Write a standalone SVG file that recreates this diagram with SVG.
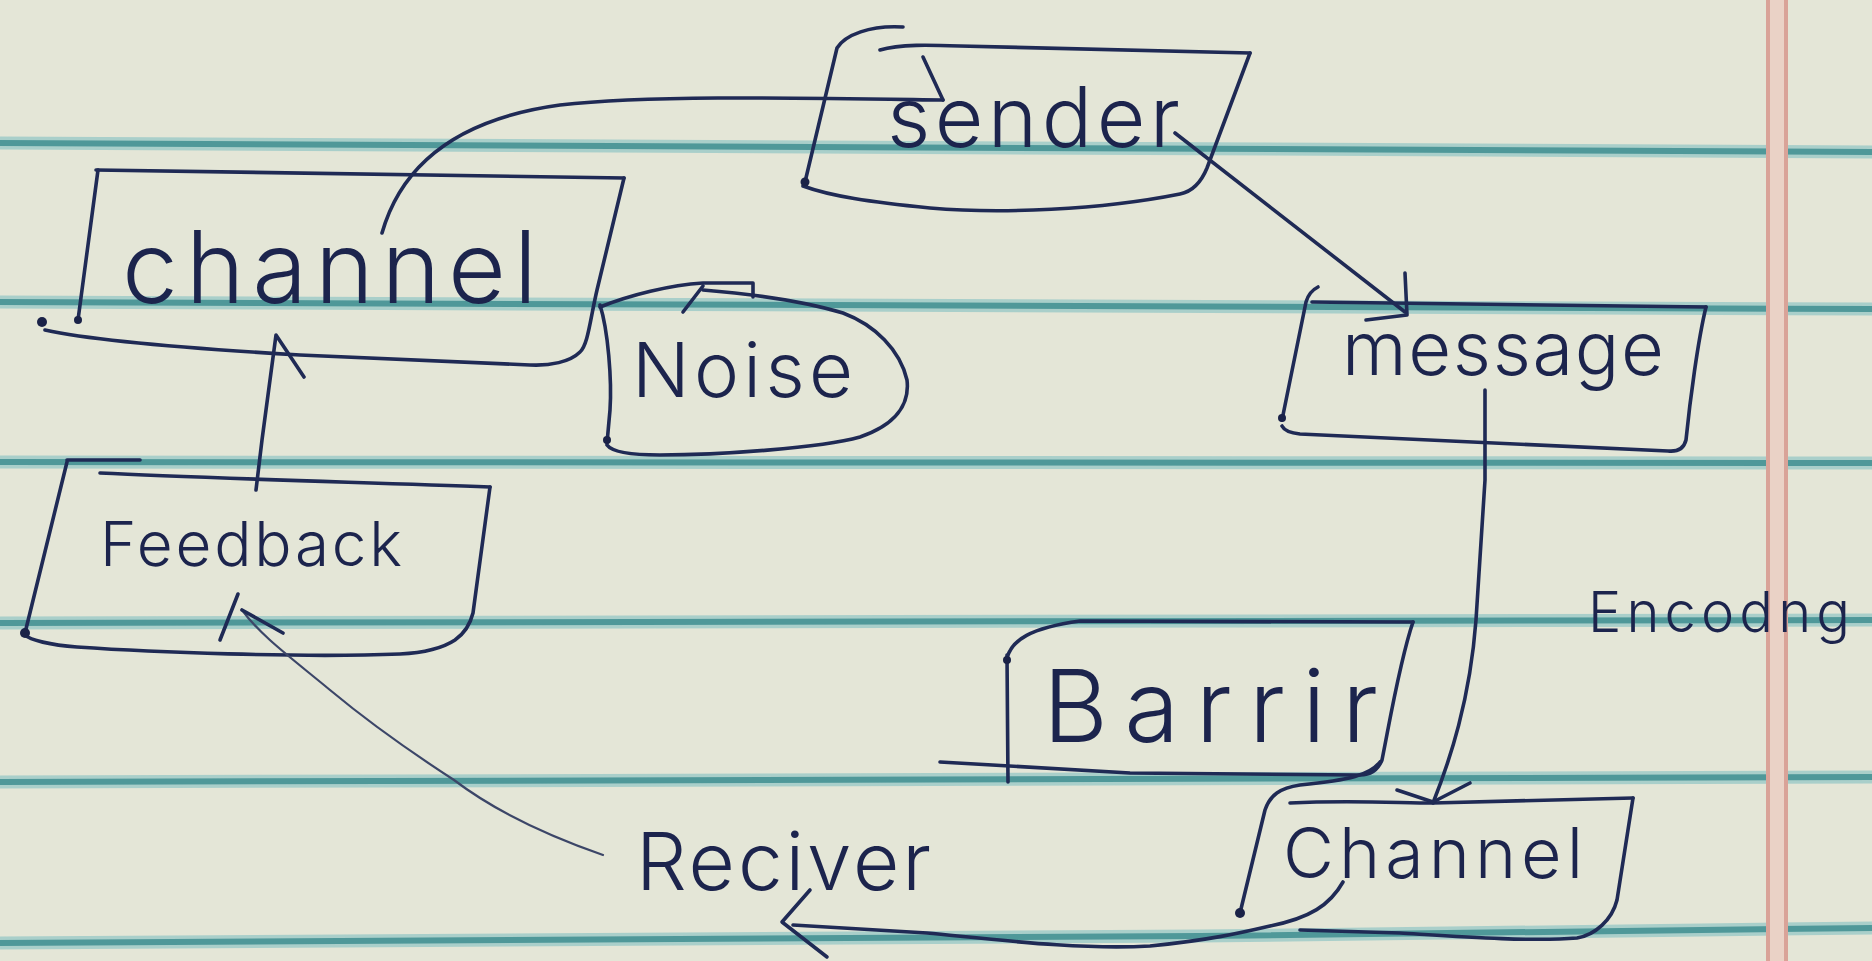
<svg xmlns="http://www.w3.org/2000/svg" width="1872" height="961" viewBox="0 0 1872 961">
  <style>
    .ink { fill: none; stroke: #1f2a55; stroke-width: 3.6; stroke-linecap: round; stroke-linejoin: round; }
    .thin { fill: none; stroke: #3c4668; stroke-width: 2.2; stroke-linecap: round; stroke-linejoin: round; }
    .dot { fill: #1a2248; }
    .rule-halo { fill: none; stroke: #a9cfca; stroke-width: 13; }
    .rule { fill: none; stroke: #4f9899; stroke-width: 6; }
    .margin { fill: none; stroke: #d9a398; stroke-width: 4; }
    .hand { font-family: Inter, "DejaVu Sans", "Liberation Sans", sans-serif; font-weight: 300; fill: #1c244d; }
  </style>

  <!-- paper -->
  <rect x="0" y="0" width="1872" height="961" fill="#e4e6d7"/>
  <g id="paper-rules">
    <path class="rule-halo" d="M0,143 L1872,152 M0,302 L1872,309 M0,462 L1872,463 M0,623 L1872,620 M0,782 L1872,777 M0,943 L1200,936 L1872,928"/>
    <path class="rule" d="M0,143 L1872,152 M0,302 L1872,309 M0,462 L1872,463 M0,623 L1872,620 M0,782 L1872,777 M0,943 L1200,936 L1872,928"/>
    <rect x="1768" y="0" width="18" height="961" fill="#ead2c6"/>
    <path class="margin" d="M1768,0 L1768,961 M1786,0 L1786,961"/>
  </g>

  <g id="sender">
    <path class="ink" d="M903,27 C870,25 845,35 837,48 L805,182"/>
    <path class="ink" d="M880,50 C900,44 930,45 960,46 L1250,53"/>
    <path class="ink" d="M1250,53 L1207,168 C1200,185 1190,192 1180,194 C1100,210 1000,214 930,208 C870,202 830,196 803,186"/>
    <circle class="dot" cx="805" cy="182" r="4.5"/>
    <text class="hand" x="887" y="147" font-size="84" textLength="293" lengthAdjust="spacing">sender</text>
  </g>

  <g id="channel-top">
    <path class="ink" d="M96,170 L624,178"/>
    <path class="ink" d="M624,178 L597,290 C590,320 588,345 580,352 C570,362 550,366 530,365 L300,355 C180,348 90,340 45,330"/>
    <path class="ink" d="M98,170 L78,320"/>
    <circle class="dot" cx="42" cy="322" r="5"/>
    <circle class="dot" cx="78" cy="320" r="4"/>
    <text class="hand" x="122" y="303" font-size="100" textLength="415" lengthAdjust="spacing">channel</text>
  </g>

  <g id="noise">
    <path class="ink" d="M600,307 C630,295 670,285 703,283 L753,283 L753,297"/>
    <path class="ink" d="M703,290 C740,293 800,300 843,313 C875,325 900,350 907,380 C910,405 895,425 860,437 C820,448 720,455 660,455 C630,455 612,452 607,445"/>
    <path class="ink" d="M600,305 C608,330 612,380 610,410 L607,443"/>
    <path class="ink" d="M683,312 L703,286"/>
    <circle class="dot" cx="607" cy="440" r="4"/>
    <text class="hand" x="632" y="397" font-size="76" textLength="221" lengthAdjust="spacing">Noise</text>
  </g>

  <g id="message">
    <path class="ink" d="M1318,287 C1312,290 1308,295 1306,302 L1282,420"/>
    <path class="ink" d="M1312,302 L1706,307"/>
    <path class="ink" d="M1706,307 C1698,340 1690,400 1686,440 C1684,448 1678,452 1668,451 L1300,434 C1290,433 1284,430 1282,426"/>
    <circle class="dot" cx="1282" cy="418" r="4"/>
    <text class="hand" x="1342" y="375" font-size="74" textLength="322" lengthAdjust="spacing">message</text>
  </g>

  <g id="barrir">
    <path class="ink" d="M1007,658 C1012,640 1030,628 1080,621 L1413,622"/>
    <path class="ink" d="M1007,655 L1008,782"/>
    <path class="ink" d="M1413,622 C1400,660 1390,720 1382,760 C1378,770 1370,775 1360,775 L1130,773 L940,762"/>
    <circle class="dot" cx="1007" cy="660" r="4"/>
    <text class="hand" x="1043" y="742" font-size="100" textLength="335" lengthAdjust="spacing">Barrir</text>
  </g>

  <g id="channel-bottom">
    <path class="ink" d="M1380,762 C1370,775 1350,780 1300,785 C1280,788 1270,795 1265,810 L1240,913"/>
    <path class="ink" d="M1290,803 C1350,800 1400,803 1433,803 L1633,798"/>
    <path class="ink" d="M1633,798 L1617,900 C1612,920 1595,935 1577,938 C1530,942 1450,936 1400,933 L1300,930"/>
    <circle class="dot" cx="1240" cy="913" r="5"/>
    <text class="hand" x="1283" y="878" font-size="70" textLength="300" lengthAdjust="spacing">Channel</text>
  </g>

  <g id="feedback">
    <path class="ink" d="M67,460 L140,460"/>
    <path class="ink" d="M100,473 C200,478 350,482 490,487"/>
    <path class="ink" d="M490,487 L473,613 C470,625 465,633 455,640 C440,650 420,653 400,654 C300,658 150,652 77,647 C50,645 30,640 25,635"/>
    <path class="ink" d="M67,462 L25,633"/>
    <circle class="dot" cx="25" cy="633" r="5"/>
    <text class="hand" x="100" y="566" font-size="62" textLength="302" lengthAdjust="spacing">Feedback</text>
  </g>

  <g id="receiver">
    <text class="hand" x="636" y="890" font-size="80" textLength="295" lengthAdjust="spacing">Reciver</text>
  </g>

  <g id="encoding-label">
    <text class="hand" x="1588" y="632" font-size="56" textLength="262" lengthAdjust="spacing">Encodng</text>
  </g>

  <g id="connectors">
    <!-- channel -> sender -->
    <path class="ink" d="M382,233 C400,170 450,120 560,105 C650,95 800,98 943,100"/>
    <path class="ink" d="M923,57 L943,100"/>
    <!-- sender -> message -->
    <path class="ink" d="M1175,133 L1405,312"/>
    <path class="ink" d="M1405,273 L1407,315 L1366,320"/>
    <!-- message -> channel (encoding) -->
    <path class="ink" d="M1485,390 L1485,480 L1476,620 C1470,700 1450,760 1433,803"/>
    <path class="ink" d="M1397,790 L1433,802 L1470,783"/>
    <!-- channel -> reciver -->
    <path class="ink" d="M1343,882 C1330,905 1310,918 1270,926 C1240,933 1210,940 1150,946 C1080,950 1000,940 927,933 L793,925"/>
    <path class="ink" d="M810,890 L782,922 L827,957"/>
    <!-- reciver -> feedback -->
    <path class="thin" d="M603,855 C560,840 500,815 454,780 C400,745 360,715 330,690 C290,657 260,635 242,610"/>
    <path class="ink" d="M220,640 L238,594"/>
    <path class="ink" d="M242,610 L283,633"/>
    <!-- feedback -> channel -->
    <path class="ink" d="M256,490 L262,440 L276,335 L304,377"/>
  </g>
</svg>
